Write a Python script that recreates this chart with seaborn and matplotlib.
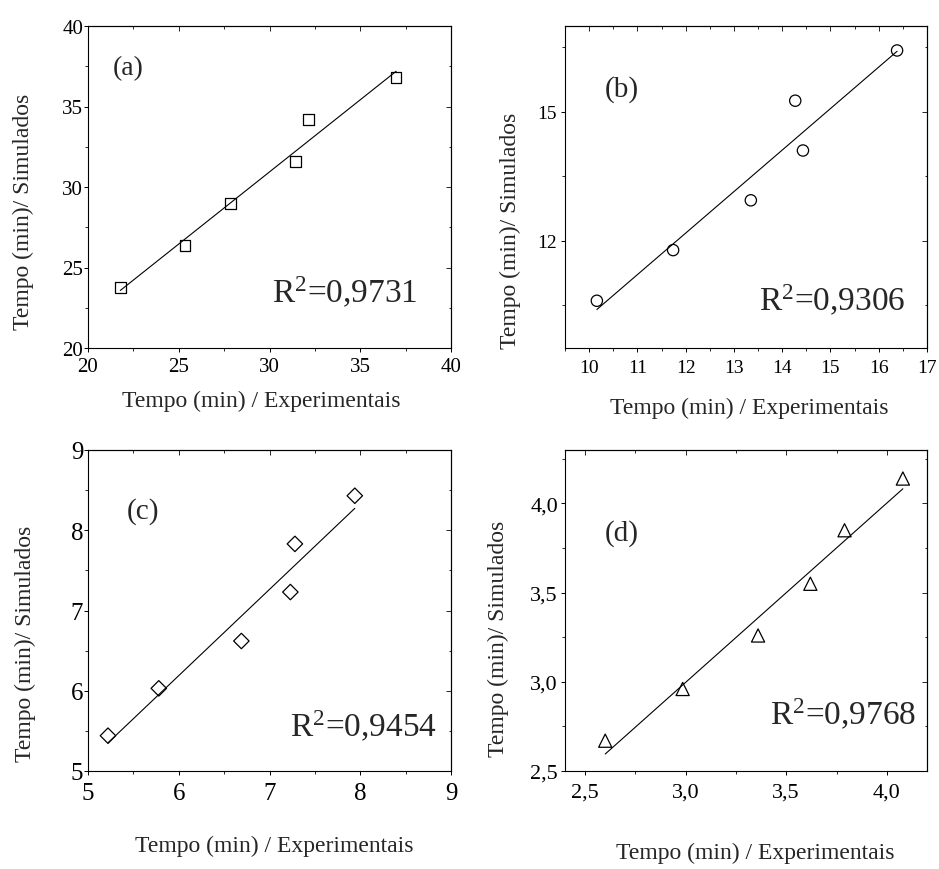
import matplotlib
matplotlib.use("Agg")
import matplotlib.pyplot as plt
from matplotlib.ticker import MultipleLocator, FuncFormatter
import seaborn as sns

# ---------------- data ----------------
exp_a = [21.78, 25.34, 27.86, 31.44, 32.16, 36.98]
sim_a = [23.74, 26.35, 28.96, 31.58, 34.21, 36.81]
exp_b = [10.16, 11.74, 13.35, 14.27, 14.43, 16.38]
sim_b = [10.60, 11.78, 12.94, 15.26, 14.10, 16.43]
exp_c = [5.22, 5.78, 6.69, 7.23, 7.28, 7.94]
sim_c = [5.44, 6.03, 6.62, 7.23, 7.83, 8.43]
exp_d = [2.60, 2.985, 3.36, 3.62, 3.79, 4.08]
sim_d = [2.67, 2.96, 3.26, 3.55, 3.85, 4.14]
r2_values = ["0,9731", "0,9306", "0,9454", "0,9768"]
panel_labels = ["(a)", "(b)", "(c)", "(d)"]
x_label = "Tempo (min) / Experimentais"
y_label = "Tempo (min)/ Simulados"

sns.set_style("ticks")
plt.rcParams["font.family"] = ["Liberation Serif", "DejaVu Serif"]
plt.rcParams["mathtext.fontset"] = "custom"
plt.rcParams["mathtext.rm"] = "Liberation Serif"
plt.rcParams["mathtext.it"] = "Liberation Serif:italic"
plt.rcParams["axes.edgecolor"] = "black"
plt.rcParams["axes.linewidth"] = 0.8

fig = plt.figure(figsize=(9.39, 8.70), dpi=100)
W, H = 939.0, 870.0

comma = FuncFormatter(lambda v, p: f"{v:.1f}".replace(".", ","))
plain = FuncFormatter(lambda v, p: f"{v:g}")

panels = [
    dict(x=exp_a, y=sim_a, marker="s", s=58, box=(88, 27, 451, 349),
         xlim=(20, 40), ylim=(20, 40), xmaj=5, xmin=2.5, ymaj=5, ymin=2.5,
         fmt=plain, tsize=15, xpad=3.5, ypad=0.5,
         xl=(0.477, -0.13), yl=(-0.149, 0.425),
         lab=(0.069, 0.85, 20), r2=(0.506, 0.142)),
    dict(x=exp_b, y=sim_b, marker="o", s=66, box=(565, 27, 927, 349),
         xlim=(9.5, 17), ylim=(9.5, 17), xmaj=1, xmin=0.5, ymaj=3, ymin=1.5,
         fmt=plain, tsize=14, xpad=5, ypad=3,
         xl=(0.508, -0.152), yl=(-0.122, 0.366),
         lab=(0.11, 0.785, 21), r2=(0.536, 0.116)),
    dict(x=exp_c, y=sim_c, marker="D", s=62, box=(88, 451, 451, 772),
         xlim=(5, 9), ylim=(5, 9), xmaj=1, xmin=0.5, ymaj=1, ymin=0.5,
         fmt=plain, tsize=18, xpad=5, ypad=0.5,
         xl=(0.512, -0.20), yl=(-0.143, 0.40),
         lab=(0.106, 0.79, 21), r2=(0.556, 0.109)),
    dict(x=exp_d, y=sim_d, marker="^", s=90, box=(565, 451, 927, 772),
         xlim=(2.4, 4.2), ylim=(2.5, 4.3), xmaj=0.5, xmin=0.25, ymaj=0.5, ymin=0.25,
         fmt=comma, tsize=16, xpad=5, ypad=2,
         xl=(0.525, -0.221), yl=(-0.155, 0.414),
         lab=(0.11, 0.72, 21), r2=(0.566, 0.145)),
]

for i, p in enumerate(panels):
    l, t, r, b = p["box"]
    ax = fig.add_axes([l / W, 1 - b / H, (r - l) / W, (b - t) / H])
    sns.regplot(x=p["x"], y=p["y"], ax=ax, ci=None, truncate=True,
                marker=p["marker"], color="black",
                scatter_kws=dict(facecolors="none", edgecolors="black",
                                 s=p["s"], linewidths=0.9, alpha=1, zorder=3),
                line_kws=dict(color="black", lw=0.8))
    ax.set_xlim(*p["xlim"])
    ax.set_ylim(*p["ylim"])
    ax.xaxis.set_major_locator(MultipleLocator(p["xmaj"]))
    ax.xaxis.set_minor_locator(MultipleLocator(p["xmin"]))
    ax.yaxis.set_major_locator(MultipleLocator(p["ymaj"]))
    ax.yaxis.set_minor_locator(MultipleLocator(p["ymin"]))
    ax.xaxis.set_major_formatter(p["fmt"])
    ax.yaxis.set_major_formatter(p["fmt"])
    for sp in ax.spines.values():
        sp.set_visible(True)
        sp.set_linewidth(0.8)
        sp.set_color("black")
    ax.tick_params(which="major", direction="out", length=3, width=0.7,
                   labelsize=p["tsize"], colors="black")
    ax.tick_params(which="minor", direction="out", length=2, width=0.7)
    ax.tick_params(axis="x", which="major", pad=p["xpad"])
    ax.tick_params(axis="y", which="major", pad=p["ypad"])

    # inward ticks on the right and top edges
    sy = ax.secondary_yaxis("right")
    sy.yaxis.set_major_locator(MultipleLocator(p["ymaj"]))
    sy.yaxis.set_minor_locator(MultipleLocator(p["ymin"]))
    sy.tick_params(which="major", direction="in", length=3.5, width=0.7, labelright=False)
    sy.tick_params(which="minor", direction="in", length=1.8, width=0.7)
    sy.spines["right"].set_linewidth(0.8)
    sx = ax.secondary_xaxis("top")
    sx.xaxis.set_major_locator(MultipleLocator(p["xmaj"]))
    sx.xaxis.set_minor_locator(MultipleLocator(p["xmin"]))
    sx.tick_params(which="major", direction="in", length=3.5, width=0.7, labeltop=False)
    sx.tick_params(which="minor", direction="in", length=1.8, width=0.7)
    sx.spines["top"].set_linewidth(0.8)

    ax.set_xlabel(x_label, fontsize=17)
    ax.set_ylabel(y_label, fontsize=17)
    ax.xaxis.set_label_coords(*p["xl"])
    ax.yaxis.set_label_coords(*p["yl"])

    lx, ly, ls = p["lab"]
    ax.text(lx, ly, panel_labels[i], transform=ax.transAxes, fontsize=ls,
            ha="left", va="baseline")
    ax.text(p["r2"][0], p["r2"][1], "R$^2$=" + r2_values[i], transform=ax.transAxes,
            fontsize=24, ha="left", va="baseline")

fig.savefig("out.png", dpi=100, facecolor="white")
